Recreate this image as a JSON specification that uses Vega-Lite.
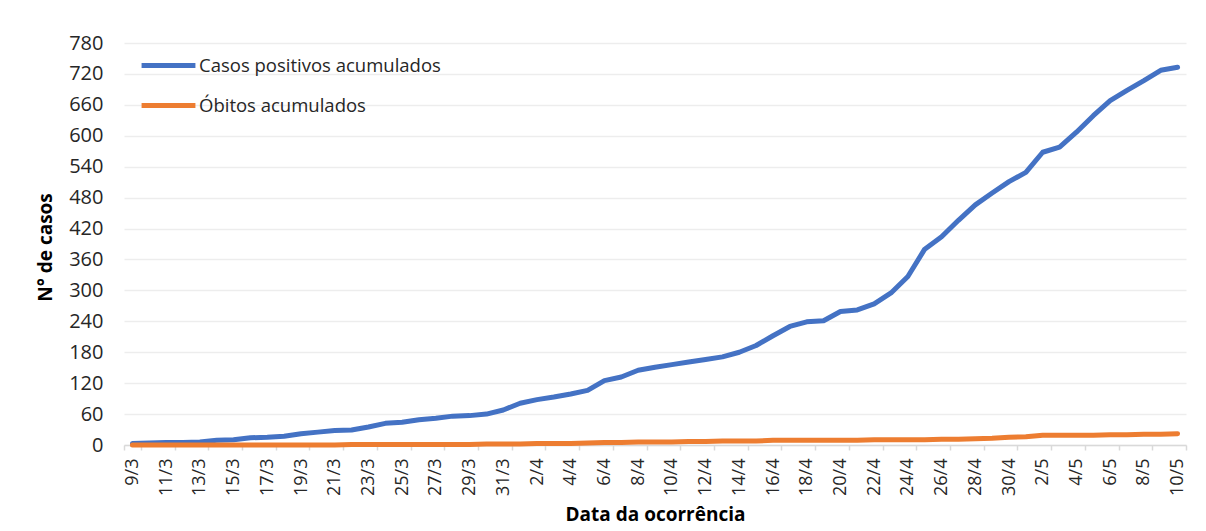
{
  "$schema": "https://vega.github.io/schema/vega-lite/v6.json",
  "width": 1062,
  "height": 402,
  "autosize": "none",
  "padding": {"left": 124, "top": 43, "right": 20, "bottom": 86},
  "background": "white",
  "config": {
    "font": "Open Sans",
    "view": {"stroke": null}
  },
  "data": {
    "values": [
      {"d":"9/3","c":3,"o":0},{"d":"10/3","c":4,"o":0},{"d":"11/3","c":5,"o":0},{"d":"12/3","c":5,"o":0},{"d":"13/3","c":6,"o":0},
      {"d":"14/3","c":9,"o":0},{"d":"15/3","c":10,"o":0},{"d":"16/3","c":14,"o":0},{"d":"17/3","c":15,"o":0},{"d":"18/3","c":17,"o":0},
      {"d":"19/3","c":22,"o":0},{"d":"20/3","c":25,"o":0},{"d":"21/3","c":28,"o":0},{"d":"22/3","c":29,"o":1},{"d":"23/3","c":35,"o":1},
      {"d":"24/3","c":42,"o":1},{"d":"25/3","c":44,"o":1},{"d":"26/3","c":49,"o":1},{"d":"27/3","c":52,"o":1},{"d":"28/3","c":56,"o":1},
      {"d":"29/3","c":57,"o":1},{"d":"30/3","c":60,"o":2},{"d":"31/3","c":68,"o":2},{"d":"1/4","c":81,"o":2},{"d":"2/4","c":88,"o":3},
      {"d":"3/4","c":93,"o":3},{"d":"4/4","c":99,"o":3},{"d":"5/4","c":106,"o":4},{"d":"6/4","c":125,"o":5},{"d":"7/4","c":132,"o":5},
      {"d":"8/4","c":145,"o":6},{"d":"9/4","c":151,"o":6},{"d":"10/4","c":156,"o":6},{"d":"11/4","c":161,"o":7},{"d":"12/4","c":166,"o":7},
      {"d":"13/4","c":171,"o":8},{"d":"14/4","c":180,"o":8},{"d":"15/4","c":193,"o":8},{"d":"16/4","c":212,"o":9},{"d":"17/4","c":230,"o":9},
      {"d":"18/4","c":239,"o":9},{"d":"19/4","c":241,"o":9},{"d":"20/4","c":259,"o":9},{"d":"21/4","c":262,"o":9},{"d":"22/4","c":274,"o":10},
      {"d":"23/4","c":295,"o":10},{"d":"24/4","c":327,"o":10},{"d":"25/4","c":380,"o":10},{"d":"26/4","c":404,"o":11},{"d":"27/4","c":436,"o":11},
      {"d":"28/4","c":466,"o":12},{"d":"29/4","c":489,"o":13},{"d":"30/4","c":511,"o":15},{"d":"1/5","c":529,"o":16},{"d":"2/5","c":568,"o":19},
      {"d":"3/5","c":578,"o":19},{"d":"4/5","c":607,"o":19},{"d":"5/5","c":639,"o":19},{"d":"6/5","c":668,"o":20},{"d":"7/5","c":688,"o":20},
      {"d":"8/5","c":707,"o":21},{"d":"9/5","c":727,"o":21},{"d":"10/5","c":733,"o":22}
    ]
  },
  "transform": [
    {"fold": ["c", "o"], "as": ["k", "v"]},
    {"calculate": "datum.k === 'c' ? 'Casos positivos acumulados' : 'Óbitos acumulados'", "as": "serie"}
  ],
  "mark": {"type": "line", "strokeWidth": 5, "strokeCap": "round", "strokeJoin": "round"},
  "encoding": {
    "x": {
      "field": "d",
      "type": "ordinal",
      "sort": null,
      "scale": {"type": "band", "paddingInner": 0, "paddingOuter": 0},
      "axis": {
        "title": "Data da ocorrência",
        "titleFont": "Open Sans",
        "titleFontSize": 19,
        "titleFontWeight": "bold",
        "titleColor": "#000000",
        "titleBaseline": "alphabetic",
        "titleY": 75,
        "values": ["9/3","11/3","13/3","15/3","17/3","19/3","21/3","23/3","25/3","27/3","29/3","31/3","2/4","4/4","6/4","8/4","10/4","12/4","14/4","16/4","18/4","20/4","22/4","24/4","26/4","28/4","30/4","2/5","4/5","6/5","8/5","10/5"],
        "labelAngle": -90,
        "labelAlign": "right",
        "labelBaseline": "middle",
        "labelFontSize": 18,
        "labelColor": "#262626",
        "labelPadding": 8,
        "labelOverlap": false,
        "tickBand": "extent",
        "tickSize": 5,
        "tickColor": "#d9d9d9",
        "tickWidth": 1.5,
        "domainColor": "#d9d9d9",
        "domainWidth": 1.5,
        "grid": false
      }
    },
    "y": {
      "field": "v",
      "type": "quantitative",
      "scale": {"domain": [0, 780], "nice": false},
      "axis": {
        "title": "N° de casos",
        "titleFontSize": 19,
        "titleFontWeight": "bold",
        "titleColor": "#000000",
        "titleX": -79,
        "titleY": 204,
        "titleAngle": -90,
        "titleAlign": "center",
        "titleBaseline": "middle",
        "values": [0,60,120,180,240,300,360,420,480,540,600,660,720,780],
        "labelFontSize": 20,
        "labelColor": "#262626",
        "labelPadding": 21,
        "ticks": false,
        "domain": false,
        "grid": true,
        "gridColor": "#ededed",
        "gridWidth": 1.5
      }
    },
    "color": {
      "field": "serie",
      "type": "nominal",
      "scale": {"domain": ["Casos positivos acumulados", "Óbitos acumulados"], "range": ["#4472C4", "#ED7D31"]},
      "legend": {
        "title": null,
        "orient": "none",
        "legendX": 15,
        "legendY": -7,
        "symbolType": "stroke",
        "symbolSize": 2900,
        "symbolStrokeWidth": 5,
        "labelFontSize": 18.5,
        "labelColor": "#262626",
        "labelOffset": 1,
        "labelLimit": 0,
        "rowPadding": -21
      }
    }
  }
}
